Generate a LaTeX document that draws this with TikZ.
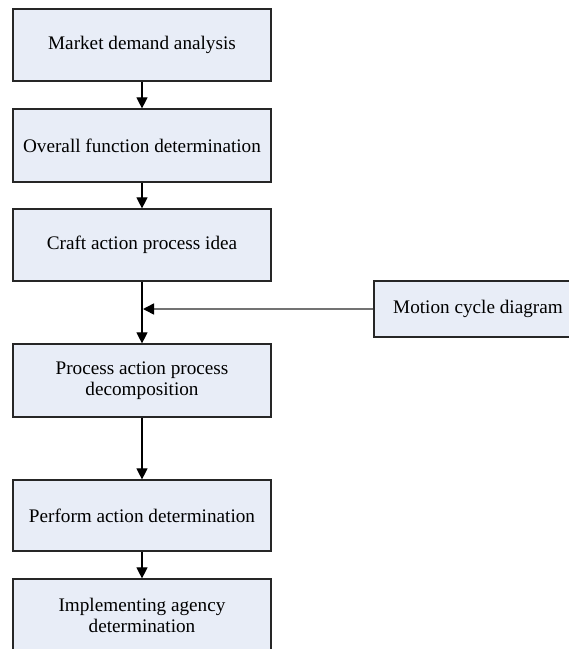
\documentclass[tikz,border=0pt]{standalone}
\usepackage{fontspec}
\setmainfont{Liberation Serif}
\usetikzlibrary{arrows.meta}
\definecolor{boxfill}{RGB}{232,237,247}
\definecolor{sidegray}{RGB}{115,115,115}
\begin{document}
\begin{tikzpicture}[x=1pt,y=-1pt,
  box/.style={draw=black!85,line width=1.2pt,fill=boxfill,minimum width=258pt,inner sep=0pt,align=center,
    font=\fontsize{19.2}{21}\selectfont},
  flow/.style={draw=black,line width=1.1pt,-{Triangle[width=11pt,length=11pt]}},
  side/.style={draw=sidegray,line width=1.5pt,-{Triangle[width=11pt,length=11pt,color=black]}}]
\useasboundingbox (0,0) rectangle (569,649);
\node[box,minimum height=72pt] (b1) at (142,45) {Market demand analysis};
\node[box,minimum height=73pt] (b2) at (142,145.5) {Overall function determination};
\node[box,minimum height=72pt] (b3) at (142,245) {Craft action process idea};
\node[box,minimum height=73pt] (b4) at (142,380.5) {Process action process\\decomposition};
\node[box,minimum height=71pt] (b5) at (142,515.5) {Perform action determination};
\node[box,minimum height=72pt] (b6) at (142,615) {Implementing agency\\determination};
\node[box,minimum width=208pt,minimum height=56pt] (m) at (478,309) {Motion cycle diagram};
\coordinate (j) at (143,309);
\draw[flow] (b1) -- (b2);
\draw[flow] (b2) -- (b3);
\draw[flow] (b3) -- (b4);
\draw[flow] (b4) -- (b5);
\draw[flow] (b5) -- (b6);
\draw[side] (m) -- (j);
\end{tikzpicture}
\end{document}
